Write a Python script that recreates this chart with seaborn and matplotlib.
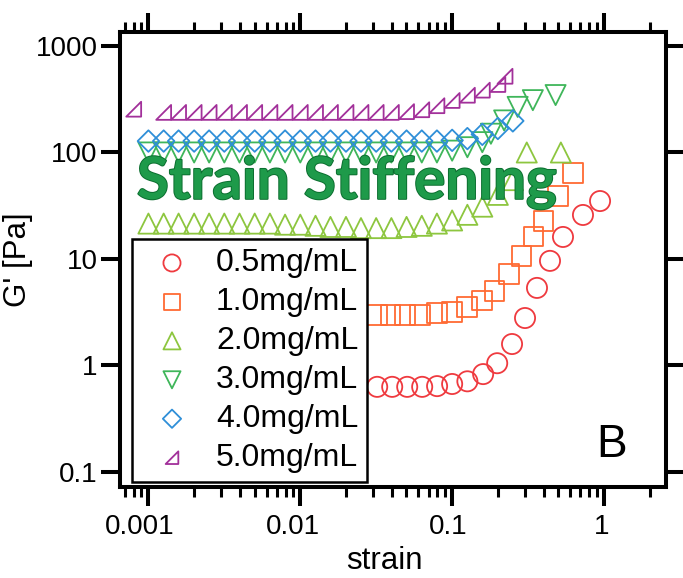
import matplotlib
matplotlib.use("Agg")
import matplotlib.pyplot as plt
import matplotlib.patheffects as pe
from matplotlib.path import Path
from matplotlib.transforms import ScaledTranslation
from matplotlib.ticker import FixedLocator, LogLocator, NullFormatter
import seaborn as sns

# --- data: storage modulus G' vs. strain for six gel concentrations ---
labels = ["0.5mg/mL", "1.0mg/mL", "2.0mg/mL", "3.0mg/mL", "4.0mg/mL", "5.0mg/mL"]

strain_05 = [0.0321, 0.0403, 0.0506, 0.0635, 0.0796, 0.1, 0.126, 0.16, 0.198,
             0.248, 0.302, 0.362, 0.441, 0.537, 0.727, 0.942]
g_05 = [0.63, 0.63, 0.63, 0.63, 0.64, 0.67, 0.71, 0.83, 1.05, 1.59, 2.79,
        5.35, 9.6, 16.1, 25.9, 35.0]

strain_10 = [0.0321, 0.0393, 0.049, 0.0617, 0.0794, 0.0995, 0.1255, 0.157,
             0.19, 0.237, 0.287, 0.343, 0.4, 0.497, 0.625]
g_10 = [2.98, 2.98, 2.98, 2.98, 3.11, 3.18, 3.54, 4.06, 5.03, 7.22, 10.7,
        16.2, 22.7, 39.1, 64.0]

strain_20 = [0.001, 0.00126, 0.00158, 0.002, 0.00251, 0.00316, 0.00398,
             0.00501, 0.00631, 0.00794, 0.01, 0.0126, 0.0158, 0.02, 0.0251,
             0.0316, 0.0398, 0.0501, 0.0631, 0.0794, 0.1, 0.126, 0.158, 0.2,
             0.251, 0.31, 0.52]
g_20 = [21.5, 21.5, 21.5, 21.5, 21.5, 21.5, 21.5, 21.5, 21.5, 21, 21, 20.5,
        20, 20, 19.5, 19.5, 19.5, 20, 20.5, 21.5, 23, 26, 31, 40, 55, 100, 100]

strain_30 = [0.001, 0.00126, 0.00158, 0.002, 0.00251, 0.00316, 0.00398,
             0.00501, 0.00631, 0.00794, 0.01, 0.0126, 0.0158, 0.02, 0.0251,
             0.0316, 0.0398, 0.0501, 0.0631, 0.0794, 0.1, 0.126, 0.158, 0.18,
             0.22, 0.27, 0.34, 0.48]
g_30 = [100, 100, 100, 100, 100, 100, 100, 100, 100, 100, 100, 100, 100,
        100, 100, 100, 100, 100, 100, 100, 104, 112, 125, 150, 200, 268,
        310, 346]

strain_40 = [0.001, 0.00126, 0.00158, 0.002, 0.00251, 0.00316, 0.00398,
             0.00501, 0.00631, 0.00794, 0.01, 0.0126, 0.0158, 0.02, 0.0251,
             0.0316, 0.0398, 0.0501, 0.0631, 0.0794, 0.1, 0.126, 0.158, 0.2,
             0.251]
g_40 = [128, 128, 128, 128, 128, 128, 128, 128, 128, 128, 128, 128, 128,
        128, 128, 128, 128, 128, 128, 128, 130, 135, 148, 168, 198]

strain_50 = [0.0008, 0.00126, 0.00158, 0.002, 0.00251, 0.00316, 0.00398,
             0.00501, 0.00631, 0.00794, 0.01, 0.0126, 0.0158, 0.02, 0.0251,
             0.0316, 0.0398, 0.0501, 0.0631, 0.0794, 0.1, 0.126, 0.158, 0.2,
             0.223]
g_50 = [255, 238, 238, 238, 238, 238, 238, 238, 238, 238, 238, 238, 238,
        238, 238, 238, 238, 242, 252, 275, 308, 345, 385, 435, 520]

colors = ["#ef3a3f", "#ff6a33", "#8dc63f", "#3fb65a", "#2f8fd8", "#a2309a"]

# right-angled triangle marker (vertical side on the right)
right_tri = Path([(-1, -1), (1, -1), (1, 1), (-1, -1)],
                 [Path.MOVETO, Path.LINETO, Path.LINETO, Path.CLOSEPOLY])
markers = ["o", "s", "^", "v", "D", right_tri]
sizes = [210, 200, 210, 210, 120, 115]

series = [(strain_05, g_05), (strain_10, g_10), (strain_20, g_20),
          (strain_30, g_30), (strain_40, g_40), (strain_50, g_50)]

sns.set_style("ticks")
plt.rcParams["font.family"] = ["Liberation Sans", "DejaVu Sans"]
plt.rcParams.update({"text.color": "black", "axes.labelcolor": "black",
                     "xtick.color": "black", "ytick.color": "black",
                     "axes.edgecolor": "black"})

fig = plt.figure(figsize=(6.83, 5.78), dpi=100)
ax = fig.add_axes([0.1757, 0.1566, 0.7994, 0.7889])

for (x, y), lab, col, m, s in zip(series, labels, colors, markers, sizes):
    sns.scatterplot(x=x, y=y, marker=m, s=s, facecolor="none", edgecolor=col,
                    linewidth=1.3, label=lab, ax=ax, zorder=3)

ax.set_xscale("log")
ax.set_yscale("log")
ax.set_xlim(0.00065, 2.56)
ax.set_ylim(0.0715, 1368)

ax.yaxis.set_major_locator(FixedLocator([0.1, 1, 10, 100, 1000]))
ax.set_yticklabels(["0.1", "1", "10", "100", "1000"])
ax.yaxis.set_minor_locator(FixedLocator([]))
ax.xaxis.set_major_locator(FixedLocator([0.001, 0.01, 0.1, 1]))
ax.set_xticklabels(["0.001", "0.01", "0.1", "1"])
ax.xaxis.set_minor_locator(LogLocator(base=10, subs=[2, 3, 4, 5, 6, 7, 8, 9], numticks=20))
ax.xaxis.set_minor_formatter(NullFormatter())

for sp in ax.spines.values():
    sp.set_linewidth(2.9)
    sp.set_color("black")

ax.tick_params(axis="both", which="major", direction="out", length=14,
               width=2.9, top=True, right=True, labelsize=20, color="black",
               labelcolor="black")
ax.tick_params(axis="y", which="major", pad=2)
ax.tick_params(axis="x", which="major", pad=5)
ax.tick_params(axis="x", which="minor", direction="out", length=7.5,
               width=2.2, top=True, bottom=True)

# nudge the x tick labels slightly left of their ticks
for lab, dx in zip(ax.get_xticklabels(), [-9, -7, -4, -2]):
    lab.set_transform(lab.get_transform() +
                      ScaledTranslation(dx / 100, 0, fig.dpi_scale_trans))

ax.set_xlabel("strain", fontsize=22.5)
ax.xaxis.set_label_coords(0.485, -0.128, transform=ax.transAxes)
ax.xaxis.label.set_va("top")
ax.set_ylabel("G' [Pa]", fontsize=22.5, labelpad=2)

leg = ax.legend(loc="lower left", bbox_to_anchor=(0.0215, 0.012),
                borderaxespad=0, frameon=True, fancybox=False, fontsize=23,
                handletextpad=0.4, labelspacing=0.28, borderpad=0.28,
                markerscale=0.85, handlelength=1.96, framealpha=1)
leg.get_frame().set_edgecolor("black")
leg.get_frame().set_linewidth(1.8)
leg.set_zorder(5)

ax.text(0.901, 0.093, "B", transform=ax.transAxes, fontsize=33,
        ha="center", va="center", color="black")

ax.text(0.031, 0.633, "Strain Stiffening", transform=ax.transAxes,
        fontsize=42, fontweight="bold", family=["Lato", "DejaVu Sans"],
        color="#1e9a4a", ha="left", va="baseline", zorder=6,
        path_effects=[pe.withStroke(linewidth=1.4, foreground="#0b6e2f")])

fig.savefig("out.png", dpi=100)
